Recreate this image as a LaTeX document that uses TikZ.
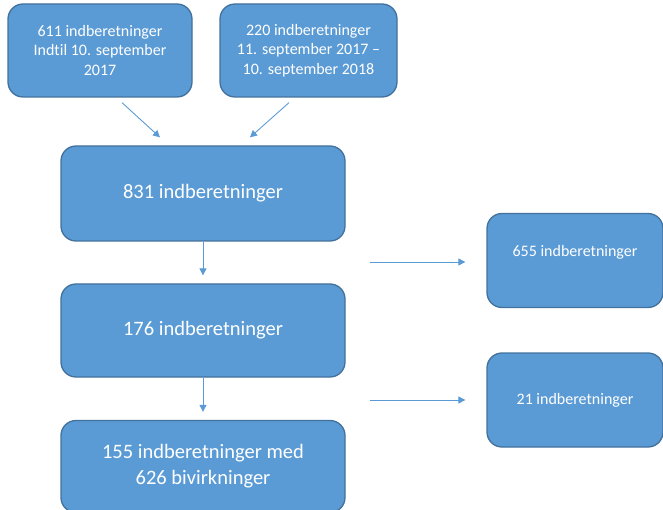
\documentclass[tikz,border=0pt]{standalone}
\usepackage{fontspec}
\setmainfont{Carlito}[Ligatures={TeX,NoCommon}]
\definecolor{boksblaa}{HTML}{5B9BD5}
\definecolor{kantblaa}{HTML}{41719C}
\usetikzlibrary{calc,arrows.meta}

\begin{document}
\begin{tikzpicture}[
    x=1pt, y=-1pt,
    >={Triangle[length=7pt,width=7pt]},
    boks/.style={draw=kantblaa, line width=1.3pt, fill=boksblaa, rounded corners=15pt,
        text=white, align=center, inner sep=0pt, font=\fontsize{16}{19.5}\selectfont},
    storboks/.style={boks, font=\fontsize{20.5}{26}\selectfont},
    pil/.style={->, draw=boksblaa, line width=0.9pt}
]
\useasboundingbox (0,0) rectangle (663,510);

% ========== ovre raekke: to perioder ==========
\node[boks, minimum width=184pt, minimum height=93pt] (A) at (100,50.5)
    {611 indberetninger\\Indtil 10. september\\2017};
\node[boks, minimum width=177pt, minimum height=93pt] (B) at (308.5,50.5)
    {220 indberetninger\\11. september 2017 --\\10. september 2018};

% ========== midterste soejle ==========
\node[storboks, minimum width=284pt, minimum height=95pt] (C) at (203,193.5) {831 indberetninger};
\node[storboks, minimum width=284pt, minimum height=93pt] (D) at (203,330.5) {176 indberetninger};
\node[storboks, minimum width=284pt, minimum height=92pt] (E) at (203,466.5) {155 indberetninger med\\626 bivirkninger};

% ========== hoejre side: fravalgte ==========
\node[boks, minimum width=176pt, minimum height=94pt] (F) at (575,260.5) {655 indberetninger\\~};
\node[boks, minimum width=176pt, minimum height=94pt] (G) at (575,400) {21 indberetninger};

% pile
\draw[pil] ([xshift=22pt,yshift=-5pt]A.south) -- ([xshift=-43pt,yshift=8pt]C.north);
\draw[pil] ([xshift=-19.5pt,yshift=-5pt]B.south) -- ([xshift=47pt,yshift=8pt]C.north);
\foreach \fra/\til in {C/D, D/E} {
    \draw[pil, shorten >=8pt] (\fra.south) -- (\til.north); % lodret pil
}
\coordinate (ud1) at (370,262);
\coordinate (ud2) at (370,400);
\draw[pil, shorten >=21pt] (ud1) -- (ud1 -| F.west);
\draw[pil, shorten >=21pt] (ud2) -- (ud2 -| G.west);

\end{tikzpicture}
\end{document}
